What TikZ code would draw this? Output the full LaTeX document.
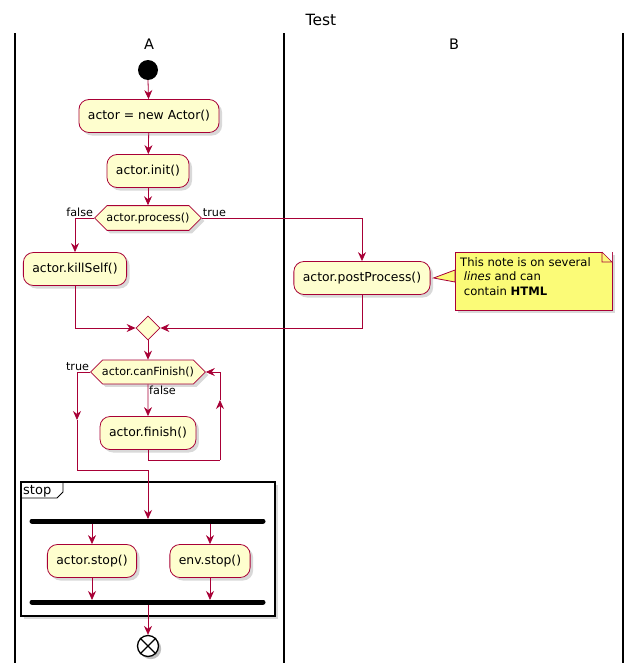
\documentclass[tikz,border=0pt]{standalone}
\usepackage{fontspec}
\setmainfont{DejaVu Sans}
\usetikzlibrary{arrows.meta,shapes.misc,shapes.geometric,calc,shadows}
\definecolor{bd}{HTML}{A80036}
\definecolor{fl}{HTML}{FEFECE}
\definecolor{nt}{HTML}{FBFB77}
\begin{document}
\begin{tikzpicture}[x=1pt,y=-1pt,
  act/.style={draw=bd,fill=fl,rounded corners=10pt,minimum height=33pt,inner xsep=9pt,font=\fontsize{12.4}{14}\selectfont,line width=0.8pt,drop shadow={shadow xshift=3pt,shadow yshift=-3pt,opacity=0.3}},
  hex/.style={draw=bd,fill=fl,chamfered rectangle,chamfered rectangle xsep=12pt,minimum height=23pt,inner xsep=3pt,font=\fontsize{11.2}{13}\selectfont,line width=0.8pt,drop shadow={shadow xshift=3pt,shadow yshift=-3pt,opacity=0.3}},
  fl/.style={draw=bd,line width=0.8pt,-{Stealth[length=9pt,width=8pt,inset=3pt]}},
  ln/.style={draw=bd,line width=0.8pt},
  lbl/.style={font=\fontsize{11.2}{13}\selectfont,inner sep=1pt},
  bar/.style={line width=5pt,line cap=round,drop shadow},
  lane/.style={line width=1.2pt}]
\useasboundingbox (0,0) rectangle (642,672);
\node (title) at (321,20) {\fontsize{15.5}{17}\selectfont Test};
\draw[lane] (15,33) -- (15,663) (284,33) -- (284,663) (623,33) -- (623,663);
\node (la) at (149,44) {\fontsize{14.5}{16}\selectfont A};
\node (lb) at (454,44) {\fontsize{14.5}{16}\selectfont B};
\fill (148,70) circle (10pt) coordinate (start);
\node[act] (new) at (149,116) {actor = new Actor()};
\node[act] (init) at (148,171) {actor.init()};
\node[hex] (proc) at (148,218) {actor.process()};
\node[act] (kill) at (75,269) {actor.killSelf()};
\node[act] (post) at (362,278) {actor.postProcess()};
\node[draw=bd,fill=fl,diamond,minimum width=24pt,minimum height=24pt,inner sep=0pt,line width=0.8pt] (merge) at (148,328) {};
\node[hex] (can) at (148,372) {actor.canFinish()};
\node[act] (fin) at (148,433) {actor.finish()};
\draw[fl] (start) ++(0,10) -- (new);
\draw[fl] (new) -- (init);
\draw[fl] (init) -- (proc);
\draw[ln] (proc.west) -- (75,218);
\draw[fl] (75,218) -- (kill);
\node[lbl,anchor=south east] (f1) at (proc.west) {false};
\draw[ln] (proc.east) -- (362,218);
\draw[fl] (362,218) -- (post);
\node[lbl,anchor=south west] (t1) at (proc.east) {true};
\draw[fl] (kill.south) |- (merge.west);
\draw[fl] (post.south) |- (merge.east);
\draw[fl] (merge) -- (can);
\draw[fl] (can) -- (fin);
\node[lbl,anchor=north west] (f2) at (can.south) {false};
\coordinate (lb1) at (148,460);
\coordinate (lb2) at (220,460);
\coordinate (lb3) at (220,372);
\draw[ln] (fin.south) -- (lb1) -- (lb2);
\draw[fl] (lb2) -- (220,400);
\draw[fl] (220,400) -- (lb3) -- (can.east);
\node[lbl,anchor=south east] (t2) at (can.west) {true};
\coordinate (tb1) at (77,372);
\coordinate (tb2) at (77,470);
\coordinate (tb3) at (148,470);
\draw[fl] (can.west) -- (tb1) -- (77,420);
\draw[ln] (77,420) -- (tb2) -- (tb3);
% group
\draw[line width=1.2pt,fill=white,drop shadow={shadow xshift=3pt,shadow yshift=-3pt,opacity=0.3}] (21,482) rectangle (275,616);
\draw[line width=0.8pt] (21,498) -- (57,498) -- (63,492) -- (63,482);
\node[anchor=west,inner sep=1pt,font=\fontsize{13}{15}\selectfont] (g) at (22,491) {stop};
\draw[bar] (32,521) -- (263,521) coordinate (fork);
\draw[bar] (32,602) -- (263,602) coordinate (join);
\draw[fl] (tb3) -- (148,519);
\node[act] (as) at (92,561) {actor.stop()};
\node[act] (es) at (210,561) {env.stop()};
\draw[fl] (92,524) -- (as);
\draw[fl] (210,524) -- (es);
\draw[fl] (as) -- (92,600);
\draw[fl] (es) -- (210,600);
\node[circle,draw,line width=1.3pt,fill=white,minimum size=21pt,inner sep=0pt,drop shadow] (end) at (148,646) {};
\draw[line width=1.3pt] (end.north east) -- (end.south west) (end.north west) -- (end.south east);
\draw[fl] (148,605) -- (end);
% note
\node[draw=bd,fill=nt,anchor=north west,minimum width=157pt,minimum height=58pt,inner sep=0pt,line width=0.6pt,drop shadow={shadow xshift=3pt,shadow yshift=-3pt,opacity=0.3}] (note) at (455,252) {};
\fill[white] (602,252) -- (612,252) -- (612,262) -- cycle;
\draw[bd,line width=0.6pt] (602,252) -- (612,262) (602,252) -- (602,262) -- (612,262);
\node[anchor=north west,align=left,font=\fontsize{11.6}{14.5}\selectfont,inner sep=0pt] (nt) at (460,257) {This note is on several\\ \ \textit{lines} and can\\ \ contain \textbf{HTML}};
\draw[ln,fill=nt] (post.east) ++(3,0) -- (455,270) -- (455,282) -- cycle;
\end{tikzpicture}
\end{document}
